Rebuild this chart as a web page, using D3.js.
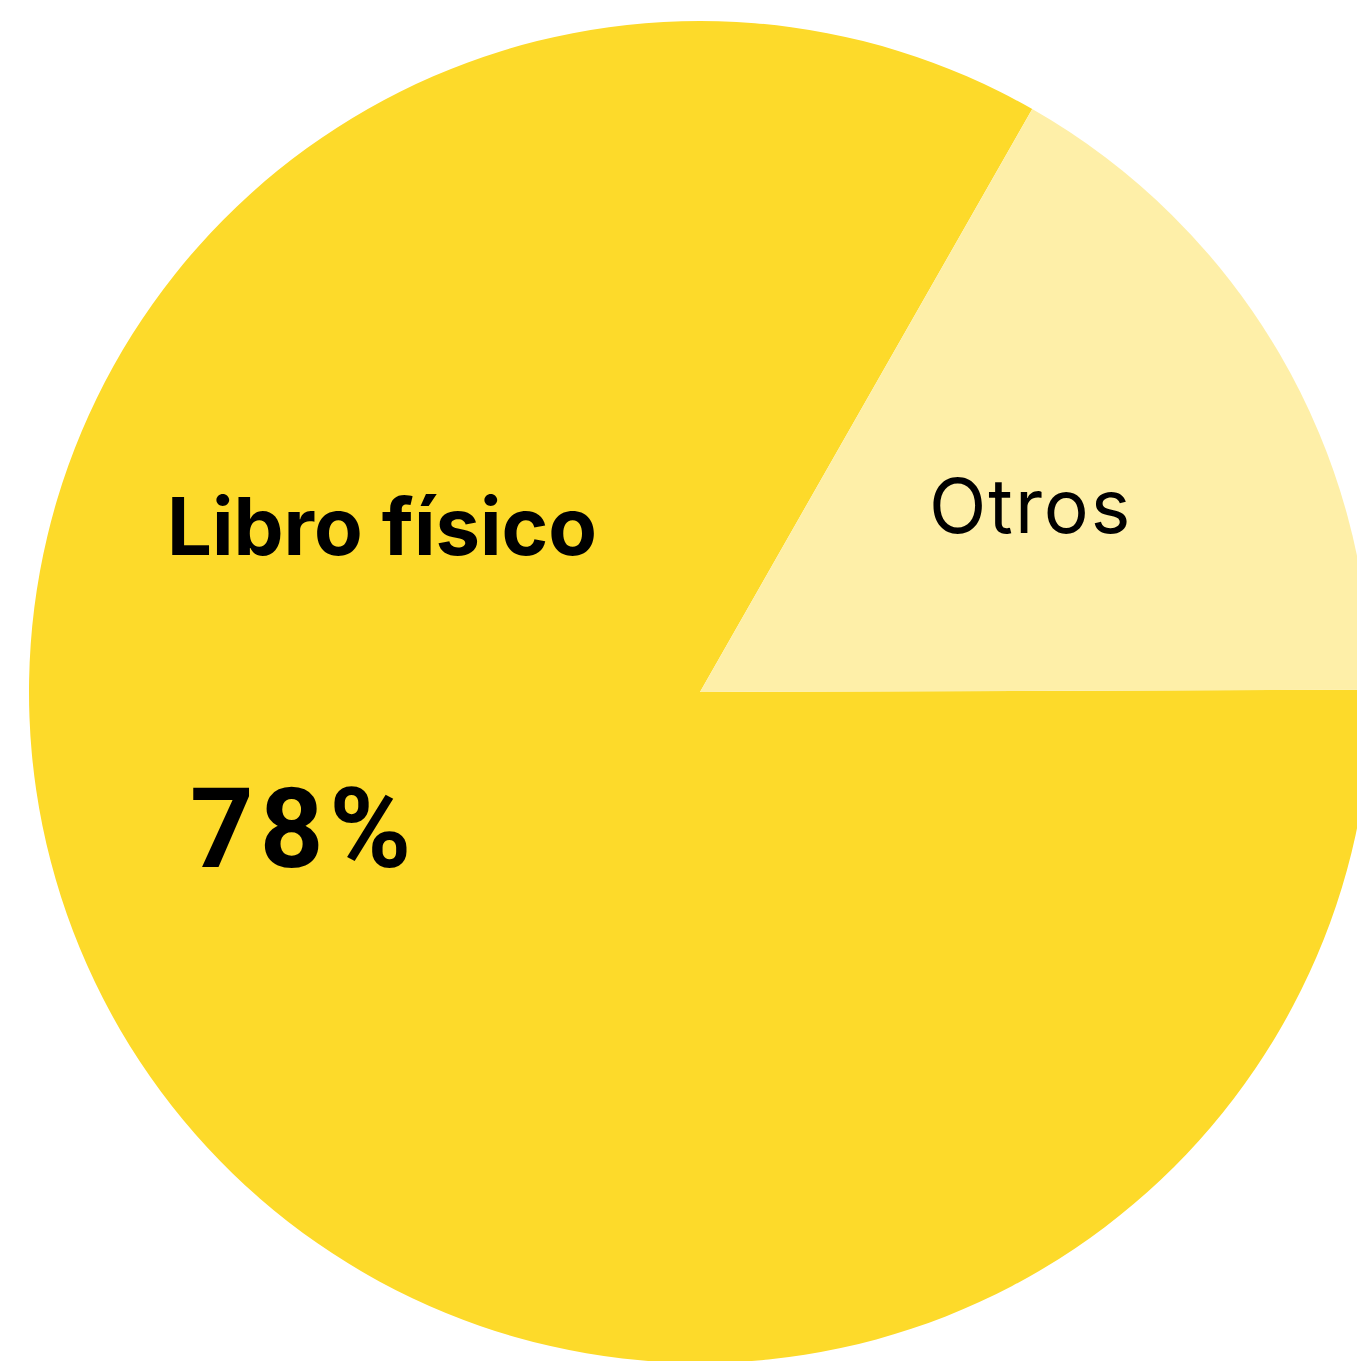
<!DOCTYPE html>
<html>
<head>
<meta charset="utf-8">
<script src="https://cdn.jsdelivr.net/npm/d3@7"></script>
<style>
  html, body { margin: 0; padding: 0; background: #fff; overflow: hidden; }
  svg { display: block; }
</style>
</head>
<body>
<svg id="pie" width="1357" height="1361"></svg>
<script>
// categorias y valores
var categories = ["Libro físico", "Otros"];
var values = [83.3, 16.7];
var shownLabels = ["78%", ""];
var colors = ["#FDDA2A", "#FEEFA8"];

var width = 1357, height = 1361;
var cx = 700, cy = 692, radius = 671;

var svg = d3.select('#pie');
var g = svg.append('g').attr('transform', 'translate(' + cx + ',' + cy + ')');

var start = 89.8 * Math.PI / 180;
var pie = d3.pie().sort(null)
    .startAngle(start)
    .endAngle(start + 2 * Math.PI);

var arc = d3.arc().innerRadius(0).outerRadius(radius);

var slices = pie(values);

g.selectAll('path.slice')
    .data(slices)
    .enter()
    .append('path')
    .attr('class', 'slice')
    .attr('d', arc)
    .attr('fill', function(d, i) { return colors[i]; });

// etiqueta de la porcion grande
g.append('text')
    .text(categories[0])
    .attr('x', 167 - cx)
    .attr('y', 555 - cy)
    .attr('font-family', 'Inter')
    .attr('font-weight', 700)
    .attr('font-size', 79.5)
    .attr('fill', '#000');

g.append('text')
    .text(shownLabels[0])
    .attr('x', 190 - cx)
    .attr('y', 867 - cy)
    .attr('font-family', 'Roboto')
    .attr('font-weight', 700)
    .attr('font-size', 111)
    .attr('letter-spacing', 6)
    .attr('fill', '#000');

g.append('text')
    .text(categories[1])
    .attr('x', 929 - cx)
    .attr('y', 533 - cy)
    .attr('font-family', 'Inter')
    .attr('font-weight', 400)
    .attr('font-size', 75)
    .attr('letter-spacing', 2)
    .attr('fill', '#000');
</script>
</body>
</html>
